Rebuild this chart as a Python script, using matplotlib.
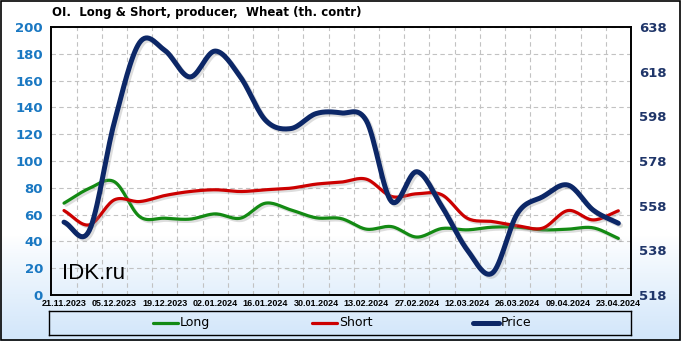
import matplotlib
matplotlib.use("Agg")
import matplotlib.pyplot as plt
import matplotlib.patheffects as pe
import numpy as np
from matplotlib.patches import Rectangle
from matplotlib.lines import Line2D

# weekly data, 21.11.2023 .. 23.04.2024
dates = ["21.11.2023", "05.12.2023", "19.12.2023", "02.01.2024", "16.01.2024", "30.01.2024",
         "13.02.2024", "27.02.2024", "12.03.2024", "26.03.2024", "09.04.2024", "23.04.2024"]
long_pos = [68.5, 79.5, 84.5, 58.5, 57.3, 56.6, 60.5, 57.3, 68.5, 63.5, 57.6, 57.0,
            49.1, 51.0, 43.2, 49.6, 48.6, 50.6, 50.6, 48.6, 49.1, 50.1, 42.2]
short_pos = [63.0, 52.3, 71.0, 69.7, 74.2, 77.2, 78.5, 77.2, 78.5, 79.7, 82.7, 84.2,
             86.4, 73.5, 75.5, 74.7, 57.3, 54.8, 51.6, 49.9, 63.0, 56.0, 62.8]
price = [550.6, 546.8, 595.5, 631.0, 627.5, 615.6, 627.2, 615.6, 596.2, 592.5, 599.2, 599.5,
         596.0, 559.8, 573.2, 557.5, 538.2, 527.8, 554.6, 562.0, 567.2, 556.0, 550.1]


def smooth(y, n=16):
    # Catmull-Rom curve through the points, only for drawing
    y = np.asarray(y, dtype=float)
    x = np.arange(len(y), dtype=float)
    p = np.concatenate([[2 * y[0] - y[1]], y, [2 * y[-1] - y[-2]]])
    xs, ys = [], []
    t = np.linspace(0, 1, n, endpoint=False)
    for i in range(len(y) - 1):
        p0, p1, p2, p3 = p[i], p[i + 1], p[i + 2], p[i + 3]
        seg = 0.5 * ((2 * p1) + (-p0 + p2) * t + (2 * p0 - 5 * p1 + 4 * p2 - p3) * t ** 2
                     + (-p0 + 3 * p1 - 3 * p2 + p3) * t ** 3)
        xs.append(x[i] + t)
        ys.append(seg)
    xs.append([x[-1]])
    ys.append([y[-1]])
    return np.concatenate(xs), np.concatenate(ys)


fig = plt.figure(figsize=(6.81, 3.41), dpi=100)

# background gradient (white on top, light blue at the bottom)
bg = fig.add_axes([0, 0, 1, 1], zorder=-10)
h = 341
rows = np.arange(h)
frac = np.clip((rows - 235) / (h - 235), 0, 1) ** 0.9
top = np.array([1.0, 1.0, 1.0])
bot = np.array([0.82, 0.90, 0.98])
grad = top[None, :] * (1 - frac[:, None]) + bot[None, :] * frac[:, None]
bg.imshow(grad[:, None, :].repeat(2, axis=1), aspect="auto", extent=(0, 1, 0, 1), origin="upper")
bg.set_axis_off()
fig.patches.append(Rectangle((0.0015, 0.003), 0.997, 0.994, transform=fig.transFigure,
                             fill=False, edgecolor="black", linewidth=1.2))

ax = fig.add_axes([0.0755, 0.135, 0.851, 0.786])
ax.patch.set_alpha(0)
ax2 = ax.twinx()

n = len(long_pos)
ax.set_xlim(-0.5, n - 0.5)
ax.set_ylim(0, 200)
ax2.set_ylim(518, 638)

ax.set_yticks(np.arange(0, 201, 20))
ax2.set_yticks(np.arange(518, 639, 20))
ax.set_xticks(np.arange(0, n, 2))
ax.set_xticklabels(dates)

ax.set_xticks(np.arange(0.5, n - 1, 1), minor=True)
ax.grid(True, axis="x", which="minor", color="#c2c2c2", linestyle=(0, (4, 3)), linewidth=0.8)
ax.grid(True, axis="y", which="major", color="#c2c2c2", linestyle=(0, (4, 3)), linewidth=0.8)
ax.set_axisbelow(True)

ax.tick_params(axis="x", which="both", length=0, pad=3)
for t in ax.get_xticklabels():
    t.set_fontweight("bold")
    t.set_fontsize(6.5)
    t.set_family("Liberation Sans")
ax.tick_params(axis="y", length=0, labelsize=9.5, labelcolor="#1a78c2", pad=6)
for t in ax.get_yticklabels():
    t.set_fontweight("bold")
ax2.tick_params(axis="y", length=0, labelsize=9.5, labelcolor="#1f3569", pad=6)
for t in ax2.get_yticklabels():
    t.set_fontweight("bold")

for sp in list(ax.spines.values()) + list(ax2.spines.values()):
    sp.set_color("black")
    sp.set_linewidth(1.2)

shadow = [pe.SimpleLineShadow(offset=(1.5, -1.5), shadow_color="#909090", alpha=0.3), pe.Normal()]

xs, ys = smooth(long_pos)
ax.plot(xs, ys, color="#138a13", linewidth=2.3, solid_capstyle="round", path_effects=shadow, zorder=3)
xs, ys = smooth(short_pos)
ax.plot(xs, ys, color="#cc0000", linewidth=2.3, solid_capstyle="round", path_effects=shadow, zorder=3)
xs, ys = smooth(price)
ax2.plot(xs, ys, color="#0c2767", linewidth=3.6, solid_capstyle="round", path_effects=shadow, zorder=4)

ax.text(0.018, 0.04, "IDK.ru", transform=ax.transAxes, fontsize=16, color="black",
        family="Liberation Sans", ha="left", va="bottom")

fig.text(0.077, 0.962, "OI.  Long & Short, producer,  Wheat (th. contr)", fontsize=8.5,
         fontweight="bold", ha="left", va="center")

# legend box
lax = fig.add_axes([0.072, 0.018, 0.855, 0.07])
lax.set_xlim(0, 1)
lax.set_ylim(0, 1)
lax.set_xticks([])
lax.set_yticks([])
lax.patch.set_alpha(0)
for sp in lax.spines.values():
    sp.set_linewidth(1.0)
    sp.set_color("black")
entries = [("Long", "#138a13", 0.178), ("Short", "#cc0000", 0.452), ("Price", "#0c2767", 0.729)]
for label, col, x0 in entries:
    lw = 3.6 if label == "Price" else 2.3
    lax.add_line(Line2D([x0, x0 + 0.043], [0.5, 0.5], color=col, linewidth=lw,
                        solid_capstyle="round"))
    lax.text(x0 + 0.046, 0.5, label, fontsize=9, va="center", ha="left")

fig.savefig("out.png", dpi=100)
